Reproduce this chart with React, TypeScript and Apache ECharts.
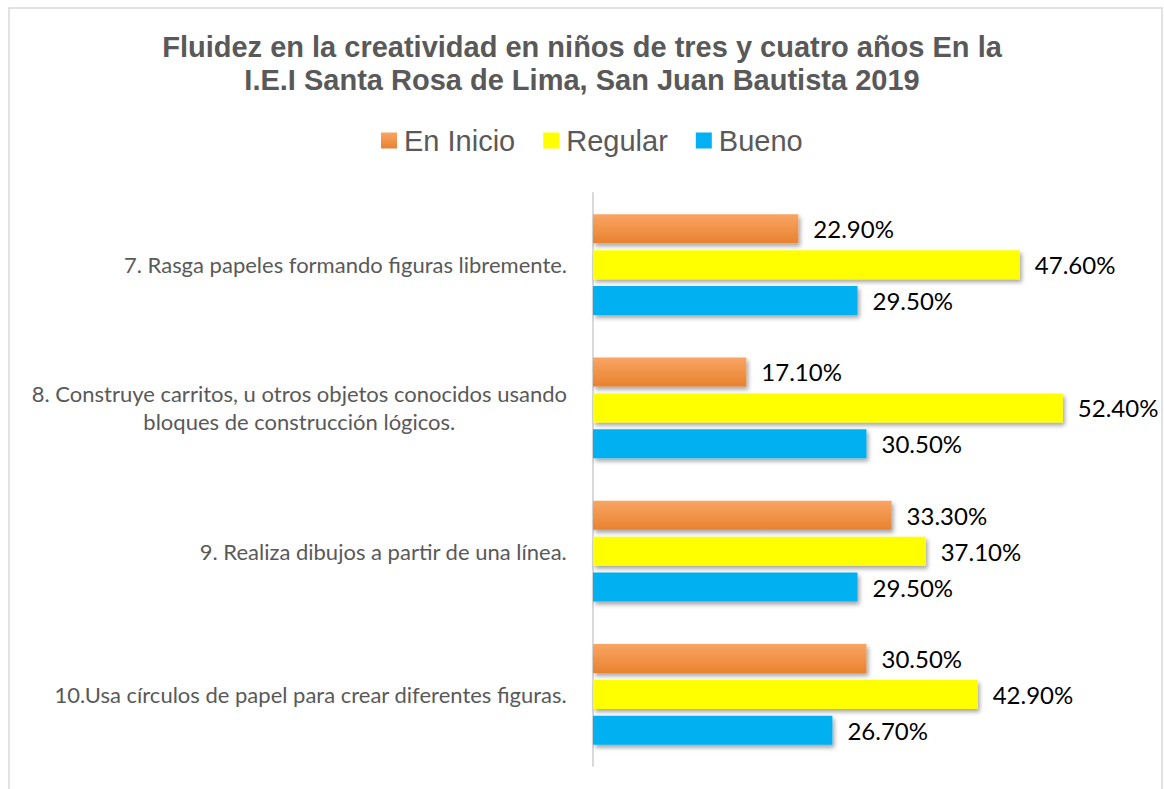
import React, { useEffect, useRef } from "react";
import * as echarts from "echarts";

const categories = [
  "7. Rasga papeles formando figuras libremente.",
  "8. Construye carritos, u otros objetos conocidos usando\nbloques de construcción lógicos.",
  "9. Realiza dibujos a partir de una línea.",
  "10.Usa círculos de papel para crear diferentes figuras.",
];
const seriesNames = ["En Inicio", "Regular", "Bueno"];
const enInicio = [22.9, 17.1, 33.3, 30.5];
const regular = [47.6, 52.4, 37.1, 42.9];
const bueno = [29.5, 30.5, 29.5, 26.7];

const titleText =
  "Fluidez en la creatividad en niños de tres y cuatro años En la\nI.E.I Santa Rosa de Lima, San Juan Bautista 2019";

export default function App() {
  const ref = useRef<HTMLDivElement>(null);
  useEffect(() => {
    if (!ref.current) return;
    const chart = echarts.init(ref.current, null, { renderer: "svg" });
    const orange = new echarts.graphic.LinearGradient(0, 0, 0, 1, [
      { offset: 0, color: "#F9A564" },
      { offset: 1, color: "#E8822F" },
    ]);
    const shadow = {
      shadowColor: "rgba(0,0,0,0.35)",
      shadowBlur: 4,
      shadowOffsetX: 2,
      shadowOffsetY: 3,
    };
    const label = {
      show: true,
      position: "right",
      distance: 15,
      color: "#000000",
      fontFamily: "Lato",
      fontSize: 24,
      formatter: (p: any) => p.value.toFixed(2) + "%",
    };
    const mk = (name: string, data: number[], color: any) => ({
      name,
      type: "bar",
      data,
      barWidth: 29,
      barGap: "24%",
      itemStyle: { color, ...shadow },
      label,
    });
    chart.setOption({
      animation: false,
      backgroundColor: "#ffffff",
      title: {
        text: titleText,
        left: "center",
        top: 30,
        padding: 0,
        textStyle: {
          fontFamily: "Liberation Sans",
          fontWeight: "bold",
          fontSize: 29,
          lineHeight: 33,
          color: "#595959",
        },
      },
      legend: {
        data: seriesNames,
        left: 381,
        top: 126,
        padding: 0,
        itemWidth: 16,
        itemHeight: 16,
        itemGap: 28,
        icon: "rect",
        textStyle: {
          fontFamily: "Liberation Sans",
          fontSize: 29,
          color: "#595959",
          padding: [0, 0, 0, 2],
        },
      },
      grid: { left: 593, right: 33, top: 193, bottom: 23, containLabel: false },
      xAxis: {
        type: "value",
        min: 0,
        max: 60,
        show: false,
        splitLine: { show: false },
      },
      yAxis: {
        type: "category",
        inverse: true,
        data: categories,
        axisLine: { show: true, lineStyle: { color: "#d9d9d9", width: 2 } },
        axisTick: { show: false },
        axisLabel: {
          margin: 26,
          color: "#595959",
          fontFamily: "Lato",
          fontSize: 22,
          lineHeight: 28,
          formatter: (v: string) =>
            v
              .split("\n")
              .map((l) => "{c|" + l + "}")
              .join("\n"),
          rich: {
            c: {
              align: "center",
              color: "#595959",
              fontFamily: "Lato",
              fontSize: 22,
              lineHeight: 28,
            },
          },
        },
      },
      graphic: [
        {
          type: "rect",
          shape: { x: 9, y: 8, width: 1153, height: 800 },
          style: { fill: "none", stroke: "#d9d9d9", lineWidth: 1.5 },
          silent: true,
          z: -1,
        },
      ],
      series: [
        mk(seriesNames[0], enInicio, orange),
        mk(seriesNames[1], regular, "#FFFF00"),
        mk(seriesNames[2], bueno, "#00B0F0"),
      ],
    });
    return () => chart.dispose();
  }, []);
  return (
    <div
      ref={ref}
      style={{ position: "fixed", left: 0, top: 0, width: 1164, height: 789 }}
    />
  );
}
